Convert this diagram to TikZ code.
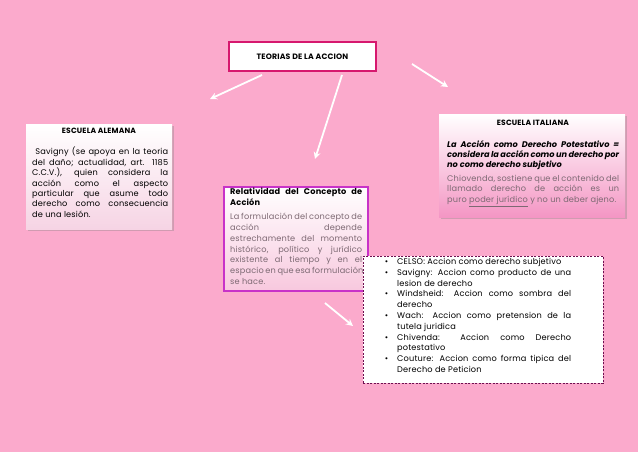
\documentclass[tikz,border=0pt]{standalone}
\usepackage{fontspec}
\setmainfont{Poppins}[LetterSpace=2]
\newfontfamily\popplain{Poppins}
\usetikzlibrary{arrows.meta,shadows}
\definecolor{bgpink}{RGB}{251,170,204}
\definecolor{titleborder}{RGB}{214,24,110}
\definecolor{relborder}{RGB}{200,50,200}
\definecolor{dashborder}{RGB}{110,15,80}
\definecolor{greytxt}{RGB}{125,105,115}
\definecolor{italbottom}{RGB}{244,150,196}
\definecolor{alembottom}{RGB}{246,212,228}
\definecolor{relbottom}{RGB}{248,200,222}
\newcommand{\jl}[2]{\makebox[#1][s]{#2}}
\newcommand{\bul}{\makebox[0pt][r]{\textbullet\hspace{9pt}}}
\tikzset{
  txt/.style={inner sep=0pt, anchor=north west, align=left, font=\fontsize{8.2}{10.4}\selectfont},
  headtxt/.style={inner sep=0pt, anchor=north, font=\fontsize{7.6}{8}\selectfont\bfseries},
  shbox/.style={draw=none, anchor=north west, inner sep=0pt,
     drop shadow={opacity=0.35, shadow xshift=2pt, shadow yshift=-2pt}},
  arr/.style={draw=white, line width=1.8pt, -{Stealth[length=7pt,width=7pt]}}
}
\begin{document}
\begin{tikzpicture}[x=1pt,y=-1pt]
\fill[bgpink] (0,0) rectangle (638,452);
\useasboundingbox (0,0) rectangle (638,452);

% title
\node[draw=titleborder, line width=2pt, fill=white, anchor=north west,
      minimum width=147pt, minimum height=29pt, inner sep=0pt,
      font=\fontsize{7.8}{8}\selectfont\bfseries] (title) at (228,41) {TEORIAS DE LA ACCION};

% arrows
\coordinate (a1s) at (262,75); \coordinate (a1e) at (210,99);
\coordinate (a2s) at (342,75); \coordinate (a2e) at (315,159);
\coordinate (a3s) at (412,64); \coordinate (a3e) at (448,87);
\coordinate (a4s) at (325,303); \coordinate (a4e) at (353,326);
\draw[arr] (a1s) -- (a1e);
\draw[arr] (a2s) -- (a2e);
\draw[arr] (a3s) -- (a3e);
\draw[arr] (a4s) -- (a4e);

% Escuela Alemana
\node[shbox, top color=white, bottom color=alembottom,
      minimum width=146pt, minimum height=105pt] (alem) at (26,124) {};
\node[headtxt] (alemh) at (99,128) {ESCUELA ALEMANA};
\node[txt] (alemb) at (32,147) {%
\jl{136pt}{\ Savigny (se apoya en la teoria}\\
\jl{136pt}{del daño; actualidad, art. 1185}\\
\jl{136pt}{C.C.V.), quien considera la}\\
\jl{136pt}{acción como el aspecto}\\
\jl{136pt}{particular que asume todo}\\
\jl{136pt}{derecho como consecuencia}\\
de una lesión.};

% Escuela Italiana
\node[shbox, top color=white, bottom color=italbottom,
      minimum width=186pt, minimum height=103pt] (ital) at (439,114) {};
\node[headtxt] (italh) at (533,120) {ESCUELA ITALIANA};
\node[txt, font=\fontsize{8.2}{10.2}\selectfont\popplain\bfseries\itshape] (italb) at (447,140) {%
\jl{172pt}{La Acción como Derecho Potestativo =}\\
\jl{172pt}{considera la acción como un derecho por}\\
no como derecho subjetivo};
\node[txt, text=greytxt] (italc) at (447,175) {%
\jl{172pt}{Chiovenda, sostiene que el contenido del}\\
\jl{172pt}{llamado derecho de acción es un}\\
puro \underline{poder jurídico} y no un deber ajeno.};

% Relatividad
\node[draw=relborder, line width=1.5pt, top color=white, bottom color=relbottom,
      anchor=north west, inner sep=0pt,
      minimum width=144pt, minimum height=104pt] (rel) at (223,186) {};
\node[txt, font=\fontsize{8.2}{10.6}\selectfont\bfseries] (relh) at (230,188) {%
\jl{132pt}{Relatividad del Concepto de}\\
Acción};
\node[txt, text=greytxt, font=\fontsize{8.2}{10.8}\selectfont] (relb) at (230,213) {%
\jl{132pt}{La formulación del concepto de}\\
\jl{132pt}{acción depende}\\
\jl{132pt}{estrechamente del momento}\\
\jl{132pt}{histórico, político y jurídico}\\
\jl{132pt}{existente al tiempo y en el}\\
\jl{132pt}{espacio en que esa formulación}\\
se hace.};

% dashed list
\node[draw=dashborder, fill=white, line width=0.8pt, dash pattern=on 2pt off 1.5pt,
      anchor=north west, inner sep=0pt,
      minimum width=240pt, minimum height=127pt] (list) at (363,256) {};
\node[txt, font=\fontsize{8.2}{10.8}\selectfont] (listb) at (397,258) {%
\bul CELSO: Accion como derecho subjetivo\\
\bul\jl{174pt}{Savigny: Accion como producto de una}\\
lesion de derecho\\
\bul\jl{174pt}{Windsheid: Accion como sombra del}\\
derecho\\
\bul\jl{174pt}{Wach: Accion como pretension de la}\\
tutela juridica\\
\bul\jl{174pt}{Chivenda: Accion como Derecho}\\
potestativo\\
\bul\jl{174pt}{Couture: Accion como forma tipica del}\\
Derecho de Peticion};
\end{tikzpicture}
\end{document}
